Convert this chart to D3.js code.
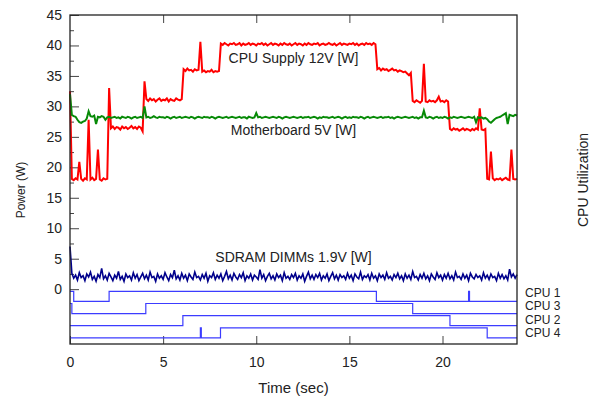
<!DOCTYPE html>
<html>
<head>
<meta charset="utf-8">
<script src="https://cdn.jsdelivr.net/npm/d3@7"></script>
<style>
body { margin: 0; background: #fff; }
svg text { font-family: "Liberation Sans", Arial, sans-serif; fill: #222; }
</style>
</head>
<body>
<div id="chart"></div>
<script>
// one sample every 0.1 s, from 0 to 24 s
const sampleStep = 0.1

const cpuSupply12V = [
	32.5, 18.1, 17.9, 18.2, 18.0, 20.9, 18.1, 17.8, 18.2, 18.0,
	27.8, 18.0, 18.3, 17.9, 18.1, 22.9, 18.0, 17.8, 18.2, 18.0,
	18.1, 33.0, 26.4, 26.7, 26.3, 26.6, 26.5, 26.2, 26.7, 26.4,
	26.6, 26.3, 26.5, 26.8, 26.4, 26.6, 26.3, 26.7, 26.5, 25.9,
	34.1, 31.2, 30.9, 31.3, 31.0, 31.2, 30.8, 31.1, 31.3, 30.9,
	31.1, 31.0, 31.3, 30.8, 31.2, 31.0, 30.9, 31.3, 31.1, 31.0,
	31.2, 36.1, 35.8, 36.2, 35.9, 36.0, 35.7, 36.1, 35.9, 36.0,
	40.6, 35.7, 35.9, 35.6, 35.8, 35.7, 36.0, 35.6, 35.8, 35.7,
	35.8, 40.3, 40.1, 40.4, 40.2, 40.0, 40.3, 40.2, 40.4, 40.1,
	40.2, 40.4, 40.0, 40.3, 40.1, 40.2, 40.4, 40.1, 40.3, 40.2,
	40.0, 40.3, 40.2, 40.4, 40.1, 40.3, 40.0, 40.2, 40.4, 40.1,
	40.3, 40.2, 40.0, 40.3, 40.1, 40.4, 40.2, 40.1, 40.3, 40.0,
	40.2, 40.4, 40.1, 40.3, 40.2, 40.0, 40.3, 40.1, 40.4, 40.2,
	40.1, 40.3, 40.2, 40.4, 40.0, 40.2, 40.3, 40.1, 40.2, 40.4,
	40.2, 40.1, 40.3, 40.0, 40.2, 40.4, 40.1, 40.3, 40.2, 40.1,
	40.3, 40.2, 40.4, 40.1, 40.3, 40.0, 40.2, 40.3, 40.1, 40.4,
	40.2, 40.3, 40.1, 40.4, 40.2, 36.1, 36.3, 35.9, 36.2, 36.0,
	36.1, 35.8, 36.0, 36.2, 35.9, 36.0, 35.7, 35.9, 35.8, 35.6,
	35.7, 35.4, 35.1, 35.5, 30.9, 30.7, 31.0, 30.8, 30.6, 30.9,
	37.0, 30.8, 30.7, 31.0, 30.8, 30.9, 30.7, 31.0, 31.6, 30.8,
	30.9, 30.7, 31.0, 30.8, 26.3, 26.1, 26.4, 26.2, 26.3, 26.0,
	26.2, 26.4, 26.1, 26.3, 26.2, 26.0, 26.3, 26.1, 26.4, 26.2,
	29.7, 26.2, 26.1, 26.3, 18.1, 18.0, 22.6, 18.2, 17.9, 18.1,
	18.0, 18.2, 17.9, 18.1, 18.3, 18.0, 17.9, 22.9, 18.1, 18.0,
	18.1
]

const motherboard5V = [
	32.0, 28.6, 28.4, 28.3, 27.8, 27.4, 27.3, 27.5, 27.6, 28.0,
	29.2, 28.4, 28.3, 28.5, 27.1, 28.3, 28.2, 28.4, 28.3, 27.8,
	28.2, 28.3, 28.1, 28.2, 28.3, 28.1, 28.2, 28.0, 28.3, 28.2,
	28.1, 28.3, 28.2, 28.0, 28.2, 28.3, 28.1, 28.2, 28.3, 28.1,
	30.0, 28.2, 28.3, 28.1, 28.2, 28.4, 28.2, 28.1, 28.3, 28.2,
	28.2, 28.1, 28.3, 28.2, 28.0, 28.2, 28.3, 28.1, 28.2, 28.3,
	28.1, 28.2, 28.3, 28.2, 28.1, 28.3, 28.2, 28.0, 28.2, 28.3,
	28.2, 28.1, 28.3, 28.2, 28.2, 28.1, 28.3, 28.2, 28.0, 28.2,
	28.3, 28.2, 28.1, 28.2, 28.3, 28.1, 28.2, 28.3, 28.2, 28.1,
	28.2, 28.3, 28.1, 28.2, 28.2, 28.0, 28.3, 28.2, 28.1, 28.2,
	28.9, 28.2, 28.3, 28.1, 28.2, 28.3, 28.2, 28.1, 28.2, 28.3,
	28.2, 28.1, 28.3, 28.2, 28.0, 28.2, 28.3, 28.2, 28.1, 28.2,
	28.3, 28.2, 28.1, 28.2, 28.3, 28.1, 28.2, 28.2, 28.3, 28.1,
	28.2, 28.3, 28.2, 28.0, 28.2, 28.1, 28.3, 28.2, 28.2, 28.1,
	28.2, 28.3, 28.1, 28.2, 28.3, 28.2, 28.0, 28.2, 28.3, 28.1,
	28.2, 28.1, 28.3, 28.2, 28.2, 28.1, 28.3, 28.2, 28.0, 28.2,
	28.3, 28.1, 28.2, 28.3, 28.2, 28.1, 28.2, 28.3, 28.1, 28.2,
	28.2, 28.3, 28.1, 28.2, 28.0, 28.2, 28.3, 28.2, 28.1, 28.2,
	28.3, 28.2, 28.1, 28.2, 28.3, 28.1, 28.2, 28.0, 28.2, 28.2,
	29.3, 28.2, 28.1, 28.3, 28.2, 28.0, 28.2, 28.3, 28.1, 28.2,
	28.1, 28.3, 28.2, 28.0, 28.2, 28.1, 28.3, 28.2, 28.1, 28.2,
	28.3, 28.2, 28.1, 28.2, 28.3, 28.2, 28.1, 28.3, 27.4, 28.2,
	28.1, 28.2, 28.0, 28.1, 27.9, 27.5, 27.3, 27.6, 27.9, 28.1,
	28.2, 28.3, 28.5, 28.7, 28.9, 27.1, 28.6, 28.5, 28.4, 28.6,
	28.5
]

const sdramDimms19V = [
	7.0, 2.6, 1.8, 2.3, 1.5, 2.7, 1.9, 2.2, 1.4, 2.5,
	2.0, 2.8, 1.6, 2.1, 1.3, 2.4, 1.9, 3.4, 1.7, 2.2,
	1.5, 2.6, 2.0, 1.4, 2.3, 1.8, 2.9, 1.6, 2.1, 1.3,
	2.5, 1.9, 2.2, 1.5, 2.7, 1.8, 2.4, 1.4, 2.0, 2.6,
	1.7, 2.3, 1.5, 2.8, 1.9, 2.1, 1.3, 2.5, 1.8, 2.2,
	1.6, 2.7, 2.0, 1.4, 2.4, 1.9, 3.1, 1.7, 2.2, 1.5,
	2.6, 1.8, 2.3, 1.4, 2.5, 2.0, 1.6, 2.8, 1.9, 2.1,
	1.5, 2.4, 1.8, 2.6, 1.3, 2.2, 1.9, 2.7, 1.6, 2.3,
	1.8, 2.5, 1.4, 2.1, 2.9, 1.7, 2.3, 1.5, 2.6, 2.0,
	1.6, 2.4, 1.9, 2.7, 1.4, 2.2, 1.8, 2.5, 1.5, 2.3,
	2.0, 1.6, 3.2, 1.8, 2.4, 1.4, 2.1, 2.6, 1.7, 2.2,
	1.5, 2.5, 1.9, 2.3, 1.4, 2.7, 1.8, 2.1, 1.6, 2.4,
	1.9, 2.6, 1.5, 2.2, 1.8, 2.5, 1.3, 2.1, 2.8, 1.7,
	2.3, 1.6, 2.4, 1.9, 2.6, 1.5, 2.2, 1.8, 2.5, 1.4,
	2.1, 2.7, 1.7, 2.3, 1.5, 2.4, 1.9, 2.2, 1.6, 2.6,
	1.8, 2.3, 1.4, 2.5, 2.0, 1.7, 2.8, 1.6, 2.2, 1.9,
	2.4, 1.5, 2.6, 1.8, 2.2, 1.4, 2.5, 1.9, 2.3, 1.6,
	2.7, 1.8, 2.1, 1.5, 2.4, 1.9, 2.6, 1.7, 2.2, 1.4,
	2.5, 1.8, 2.3, 1.6, 2.9, 1.9, 2.1, 1.5, 2.4, 1.8,
	2.6, 1.7, 2.2, 1.4, 2.5, 2.0, 1.6, 2.7, 1.9, 2.3,
	1.5, 2.4, 1.8, 2.6, 1.7, 2.2, 1.5, 2.8, 1.9, 2.1,
	1.6, 2.5, 1.8, 2.3, 1.4, 2.6, 2.0, 1.7, 2.4, 1.9,
	2.2, 1.5, 2.7, 1.8, 2.3, 1.6, 2.5, 1.9, 2.1, 1.4,
	2.6, 1.8, 2.4, 1.7, 2.2, 1.5, 3.3, 2.0, 2.5, 1.8,
	2.4
]

// CPU utilization (%) as [time, util] change points, top row first
const cpuNames = ['CPU 1', 'CPU 3', 'CPU 2', 'CPU 4']
const cpuUtil = [
	[[0, 100], [0.2, 0], [2.1, 100], [16.45, 0], [21.4, 100], [21.45, 0], [24, 0]],
	[[0, 100], [0.1, 0], [4.07, 100], [18.4, 0], [24, 0]],
	[[0, 0], [6.06, 100], [20.4, 0], [24, 0]],
	[[0, 0], [7.0, 100], [7.05, 0], [8.08, 100], [22.4, 0], [24, 0]]
]

const seriesLabels = ['CPU Supply 12V [W]', 'Motherboard 5V [W]', 'SDRAM DIMMs 1.9V [W]']
const xTicks = [0, 5, 10, 15, 20]
const yTicks = [0, 5, 10, 15, 20, 25, 30, 35, 40, 45]
const yMinorTicks = [2.5, 7.5, 12.5, 17.5, 22.5, 27.5, 32.5, 37.5, 42.5]

const render = ({htmlComponent}) => {
	const margin = {
		top: 15,
		bottom: 55,
		right: 80,
		left: 70
	}
	const width = 597 - margin.left - margin.right
	const height = 399 - margin.top - margin.bottom

	const root = d3.select(htmlComponent).append('svg')
		.attr('width', 597)
		.attr('height', 399)

	const svg = root.append('g')
		.attr('transform', `translate(${margin.left}, ${margin.top})`)

	const xScale = d3.scaleLinear()
		.domain([0, 24])
		.range([0, width])

	const yScale = d3.scaleLinear()
		.domain([-9, 45])
		.range([height, 0])

	// ticks point into the plot
	const styleAxis = g => {
		g.select('.domain').remove()
		g.selectAll('.tick line').attr('stroke', '#444')
		g.selectAll('.tick text').style('font-size', '14px').attr('fill', '#222')
	}

	svg.append('g')
		.call(d3.axisLeft(yScale).tickValues(yTicks).tickSize(-9).tickPadding(8))
		.call(styleAxis)

	svg.append('g')
		.call(d3.axisLeft(yScale).tickValues(yMinorTicks).tickSize(-4).tickFormat(''))
		.call(styleAxis)

	svg.append('g')
		.attr('transform', `translate(0, ${height})`)
		.call(d3.axisBottom(xScale).tickValues(xTicks).tickSize(-8).tickPadding(13))
		.call(styleAxis)

	svg.append('g')
		.call(d3.axisTop(xScale).tickValues(xTicks.slice(1)).tickSize(-8).tickFormat(''))
		.call(styleAxis)

	const timeOf = (d, i) => xScale(i * sampleStep)
	const powerLine = d3.line()
		.x(timeOf)
		.y(d => yScale(d))

	const plot = svg.append('g')

	plot.append('path')
		.datum(cpuSupply12V)
		.attr('d', powerLine)
		.attr('fill', 'none')
		.attr('stroke', '#ff0000')
		.attr('stroke-width', 2)

	plot.append('path')
		.datum(motherboard5V)
		.attr('d', powerLine)
		.attr('fill', 'none')
		.attr('stroke', '#078a07')
		.attr('stroke-width', 2)

	plot.append('path')
		.datum(sdramDimms19V)
		.attr('d', powerLine)
		.attr('fill', 'none')
		.attr('stroke', '#00008b')
		.attr('stroke-width', 1.6)

	// each cpu row: idle at -2*(row+1), busy 1.65 W-units higher
	const cpuLevel = (row, util) => yScale(-2 * (row + 1) + util / 100 * 1.65)

	cpuUtil.forEach((steps, row) => {
		const cpuLine = d3.line()
			.curve(d3.curveStepAfter)
			.x(d => xScale(d[0]))
			.y(d => cpuLevel(row, d[1]))
		plot.append('path')
			.datum(steps)
			.attr('d', cpuLine)
			.attr('fill', 'none')
			.attr('stroke', '#3c3cff')
			.attr('stroke-width', 1.2)
	})

	svg.selectAll('cpuLabels').data(cpuNames)
	.enter()
		.append('text')
			.attr('x', width + 8)
			.attr('y', (d, i) => yScale(-0.75) + i * 13.5)
			.attr('dominant-baseline', 'middle')
			.style('font-size', '12px')
			.text(d => d)

	const labelLevels = [37.05, 25.3, 4.4]
	svg.selectAll('seriesLabels').data(seriesLabels)
	.enter()
		.append('text')
			.attr('x', xScale(12))
			.attr('y', (d, i) => yScale(labelLevels[i]))
			.attr('text-anchor', 'middle')
			.style('font-size', '14px')
			.text(d => d)

	// frame
	svg.append('rect')
		.attr('width', width)
		.attr('height', height)
		.attr('fill', 'none')
		.attr('stroke', '#222')
		.attr('stroke-width', 1.3)

	root.append('text')
		.attr('transform', 'translate(25, 190) rotate(-90)')
		.attr('text-anchor', 'middle')
		.style('font-size', '12px')
		.text('Power (W)')

	root.append('text')
		.attr('x', margin.left + width / 2)
		.attr('y', 393)
		.attr('text-anchor', 'middle')
		.style('font-size', '15px')
		.text('Time (sec)')

	root.append('text')
		.attr('transform', 'translate(588, 180) rotate(-90)')
		.attr('text-anchor', 'middle')
		.style('font-size', '14px')
		.text('CPU Utilization')
}

render({htmlComponent: '#chart'})
</script>
</body>
</html>
